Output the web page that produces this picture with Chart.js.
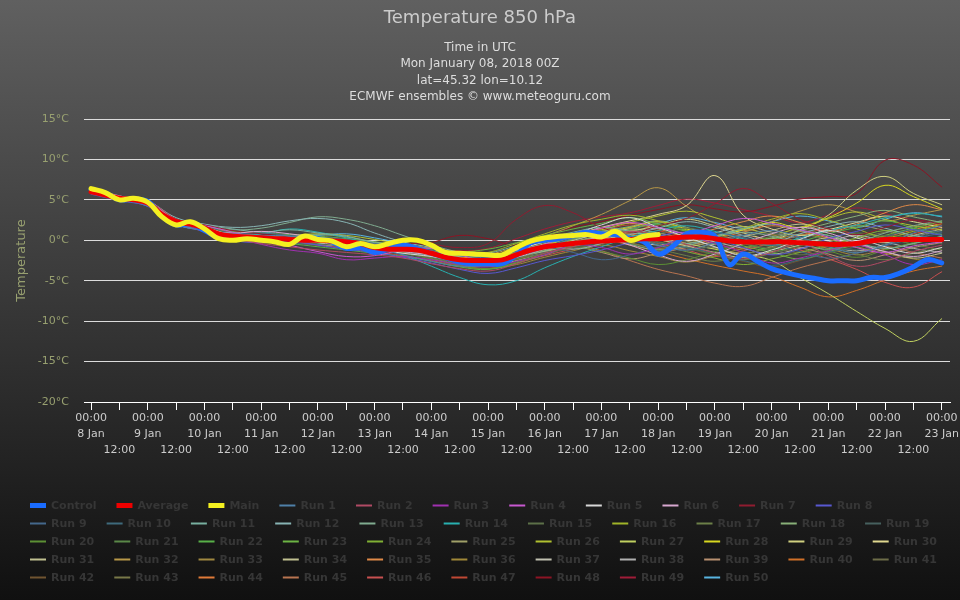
<!DOCTYPE html>
<html>
<head>
    <title>Temperature 850 hPa</title>
    <script src="https://cdn.jsdelivr.net/npm/chart.js"></script>
    <style>
        html, body { margin: 0; padding: 0; }
        #wrap {
            width: 960px; height: 600px;
            background: linear-gradient(to bottom, rgb(96,96,96), rgb(16,16,16));
        }
    </style>
</head>
<body>
<div id="wrap"><canvas id="ens-chart" width="960" height="600"></canvas></div>

<script>
    // ---- data ----
    const hours6 = [0,6,12,18,24,30,36,42,48,54,60,66,72,78,84,90,96,102,108,114,120,126,132,138,144,150,156,162,168,174,180,
        186,192,198,204,210,216,222,228,234,240,246,252,258,264,270,276,282,288,294,300,306,312,318,324,330,336,342,348,354,360];
    const hours12 = [0,12,24,36,48,60,72,84,96,108,120,132,144,156,168,180,192,204,216,228,240,252,264,276,288,300,312,324,336,348,360];
    const tickHours = hours12;
    const dayLabels = ['8 Jan','9 Jan','10 Jan','11 Jan','12 Jan','13 Jan','14 Jan','15 Jan','16 Jan','17 Jan','18 Jan',
        '19 Jan','20 Jan','21 Jan','22 Jan','23 Jan'];
    const yTicks = [15, 10, 5, 0, -5, -10, -15, -20];

    const controlTemp = [6.3,5.8,5.0,5.1,4.8,3.0,1.9,2.0,1.2,0.3,0.1,0.3,0.2,0.0,-0.3,0.3,0.2,-0.2,-1.0,-0.9,-1.5,-1.1,-0.6,-1.0,-1.6,
        -2.1,-2.7,-2.9,-2.9,-2.9,-1.8,-0.3,0.0,0.2,0.6,1.0,0.8,0.7,0.2,-0.2,-1.7,-0.8,0.8,1.0,0.5,-3.0,-1.7,-2.6,-3.5,-4.0,
        -4.4,-4.7,-5.0,-5.0,-5.0,-4.6,-4.6,-4.1,-3.3,-2.4,-2.8];
    const averageTemp = [6.0,5.6,5.2,5.0,4.6,3.2,2.3,2.0,1.5,0.8,0.5,0.4,0.3,0.2,0.1,0.0,0.0,-0.1,-0.2,-0.4,-0.9,-1.1,-1.1,-1.2,-1.6,
        -2.1,-2.4,-2.5,-2.5,-2.4,-1.8,-1.2,-0.8,-0.6,-0.4,-0.2,-0.1,0.0,0.1,0.2,0.2,0.3,0.4,0.4,0.2,-0.1,-0.2,-0.2,-0.2,-0.2,
        -0.3,-0.4,-0.5,-0.5,-0.4,-0.1,0.1,0.1,0.1,0.1,0.1];
    // main run only goes out to 240h
    const mainTemp = [6.4,5.9,5.0,5.2,4.7,2.9,1.9,2.3,1.4,0.2,0.0,0.2,0.0,-0.2,-0.5,0.5,0.1,-0.1,-0.8,-0.4,-0.8,-0.4,0.0,0.0,-0.6,
        -1.5,-1.6,-1.7,-1.8,-1.8,-0.9,-0.1,0.3,0.5,0.6,0.7,0.4,1.1,0.0,0.5,0.7];

    // ensemble members, 12-hourly
    const runs = [
        [5.8,5.0,4.3,2.0,1.2,0.8,0.6,0.5,-0.2,-0.5,-1.0,-1.8,-2.6,-3.2,-3.0,-2.0,-1.0,0.2,0.8,0.5,-0.6,-1.2,-0.3,0.6,1.2,0.4,-0.8,-1.5,-0.6,0.9,1.8], // Run 1
        [6.1,5.4,4.8,2.6,1.0,0.2,-0.4,-0.8,-1.2,-1.5,-1.8,-2.2,-2.9,-3.5,-3.8,-2.9,-1.6,-0.8,0.4,1.1,0.6,-0.5,-1.6,-2.3,-1.5,-0.4,-1.9,-3.2,-2.6,-1.4,-0.6], // Run 2
        [6.2,5.1,4.4,2.2,1.4,0.4,-0.5,-1.2,-1.6,-2.4,-2.2,-2.0,-2.4,-3.0,-3.3,-2.6,-1.8,-0.6,-0.9,-1.7,-0.9,0.3,-0.4,-1.5,-2.8,-2.2,-1.3,-0.6,-1.8,-3.0,-2.4], // Run 3
        [5.9,5.3,4.9,2.4,1.8,1.0,0.1,-0.6,-1.4,-2.0,-1.9,-1.2,-1.0,-1.8,-2.6,-1.7,-0.5,0.6,1.5,2.2,1.6,0.9,1.8,2.7,2.1,1.3,0.4,-0.9,-1.5,-0.7,-0.2], // Run 4
        [6.0,5.2,4.5,2.1,1.6,0.6,0.4,0.2,-0.3,-0.6,-1.1,-1.6,-2.0,-2.6,-2.4,-1.2,-0.2,0.7,1.9,2.8,1.6,0.4,-0.8,-1.9,-1.2,0.1,1.2,0.3,-0.8,-1.6,-0.9], // Run 5
        [6.3,5.5,4.6,2.5,1.3,0.9,1.1,0.8,0.3,-0.1,-0.8,-1.4,-1.8,-2.2,-2.7,-2.1,-1.1,-0.5,0.3,-0.6,-1.8,-2.6,-1.7,-0.4,0.8,1.6,0.9,-0.3,-1.4,-2.0,-1.3], // Run 6
        [6.1,5.3,4.4,2.6,1.9,1.2,0.8,0.4,0.0,-0.3,-0.6,-0.4,-0.5,-0.9,-0.4,2.6,4.3,3.4,1.6,0.9,1.8,2.7,4.5,6.4,4.6,2.6,1.4,0.7,1.6,2.5,2.0], // Run 7
        [5.7,4.9,4.2,2.0,1.1,0.0,-0.3,-0.1,-0.6,-1.1,-1.5,-2.1,-2.8,-3.6,-4.1,-3.4,-2.5,-1.9,-1.2,-0.3,0.5,1.0,0.2,-0.9,-1.8,-1.1,0.2,1.1,1.9,1.3,0.6], // Run 8
        [6.0,5.0,4.6,2.3,1.7,0.9,0.9,0.6,0.4,0.1,-0.4,-0.9,-1.2,-1.9,-2.1,-1.4,-0.9,-1.5,-2.4,-1.8,-0.8,0.1,0.9,0.3,-0.5,-1.4,-2.2,-1.6,-0.7,0.2,0.9], // Run 9
        [6.2,5.4,4.7,2.2,1.5,0.3,0.0,-0.3,-0.5,-0.2,-0.9,-1.3,-2.0,-2.8,-3.2,-2.2,-0.9,0.3,0.9,0.4,-0.3,-0.9,-1.6,-2.5,-3.1,-2.4,-1.5,-0.8,0.4,1.3,1.0], // Run 10
        [5.8,5.2,4.5,2.6,1.9,1.4,1.0,1.3,0.9,0.5,-0.3,-0.8,-1.4,-2.0,-1.6,-0.7,0.2,1.0,1.6,1.1,0.3,-0.4,0.5,1.4,2.0,1.2,0.6,-0.3,-1.0,-0.4,0.5], // Run 11
        [6.1,5.3,4.8,2.8,2.0,1.6,1.8,2.4,2.7,2.2,0.9,-0.2,-0.9,-1.7,-2.0,-1.3,-0.6,-1.1,-0.4,0.7,1.5,2.3,1.6,0.6,-0.2,0.8,1.7,2.3,1.5,0.6,0.2], // Run 12
        [6.0,5.1,4.4,2.4,1.8,1.3,1.5,2.2,2.9,2.6,1.8,0.6,-0.6,-1.5,-2.3,-1.9,-1.3,-0.3,0.3,-0.5,-1.2,-0.7,0.4,1.0,0.5,-0.4,-1.1,-0.3,0.9,1.8,2.4], // Run 13
        [5.9,5.0,4.2,2.1,1.3,0.5,0.8,1.4,1.0,0.3,-0.6,-1.8,-3.2,-4.6,-5.5,-5.0,-3.4,-2.0,-0.8,0.4,1.2,1.8,1.1,0.2,-0.6,0.3,1.2,1.9,2.8,3.3,3.0], // Run 14
        [6.1,5.2,4.7,2.2,1.4,0.4,0.1,-0.2,-0.4,-0.7,-1.2,-1.7,-2.2,-2.9,-3.1,-2.4,-1.6,-1.0,-0.5,0.1,0.8,1.5,0.7,-0.3,-1.1,-1.8,-1.2,-0.3,0.6,0.2,-0.4], // Run 15
        [6.0,5.4,4.9,2.5,1.6,0.7,0.5,0.3,0.2,0.0,-0.5,-0.9,-1.3,-1.8,-1.5,-0.4,0.8,1.9,2.6,3.1,2.4,1.3,0.6,1.5,2.6,3.3,2.5,1.4,0.4,1.1,2.0], // Run 16
        [5.8,5.1,4.5,2.3,1.5,0.6,0.2,0.0,-0.3,-0.5,-0.9,-1.4,-2.1,-2.7,-2.9,-2.3,-1.2,-0.4,0.2,-0.4,-1.1,-1.9,-2.6,-1.8,-0.9,-0.2,-0.8,-1.7,-2.4,-1.6,-0.9], // Run 17
        [6.2,5.3,4.6,2.0,1.3,0.2,0.3,0.5,0.7,0.4,-0.2,-0.8,-1.5,-2.2,-2.6,-1.7,-0.5,0.4,1.1,1.7,2.4,1.6,0.5,-0.4,0.3,1.2,2.1,3.0,3.7,2.9,2.2], // Run 18
        [6.0,5.2,4.5,2.2,1.5,0.5,0.2,-0.1,-0.4,-0.8,-1.3,-1.6,-2.0,-2.5,-2.8,-2.2,-1.5,-0.9,-0.3,0.2,-0.5,-1.3,-0.6,0.3,0.9,0.2,-0.6,-1.2,-0.5,0.4,1.1], // Run 19
        [5.9,5.0,4.3,2.4,1.7,0.8,0.4,0.1,-0.2,-0.6,-1.0,-1.5,-2.3,-3.1,-3.5,-2.7,-1.6,-0.8,-1.4,-2.2,-3.0,-2.4,-1.4,-0.5,0.3,-0.4,-1.3,-2.1,-1.2,-0.3,0.5], // Run 20
        [6.1,5.3,4.6,2.5,1.6,0.7,0.6,0.4,0.3,0.1,-0.3,-0.7,-1.1,-1.6,-2.0,-1.2,-0.3,0.5,1.2,0.6,-0.2,-0.9,-1.7,-2.4,-1.6,-0.7,0.2,0.9,0.3,-0.5,-1.2], // Run 21
        [6.0,5.2,4.4,2.1,1.4,0.3,0.0,-0.4,-0.8,-1.2,-1.6,-2.0,-2.6,-3.3,-3.6,-2.8,-1.8,-0.7,0.4,1.3,2.0,1.2,0.4,-0.4,-1.1,-0.2,0.8,1.6,2.4,1.5,0.7], // Run 22
        [5.8,5.1,4.7,2.6,1.8,1.1,0.9,0.7,0.5,0.2,-0.2,-0.6,-1.0,-1.4,-1.1,-0.3,0.6,1.4,2.1,2.8,2.0,1.1,0.2,-0.7,-1.5,-2.3,-1.4,-0.5,0.6,1.5,2.3], // Run 23
        [6.2,5.4,4.8,2.3,1.5,0.5,0.2,0.0,-0.2,-0.4,-0.8,-1.3,-1.9,-2.6,-3.0,-2.1,-1.0,0.1,0.9,0.4,-0.5,-1.4,-2.2,-3.0,-2.3,-1.5,-0.6,0.3,1.2,0.6,-0.1], // Run 24
        [6.0,5.3,4.5,2.2,1.4,0.4,0.3,0.2,0.1,-0.1,-0.6,-1.2,-1.8,-2.5,-2.7,-1.9,-0.9,-0.2,0.5,1.2,0.7,-0.1,-0.9,-1.6,-0.8,0.2,1.1,1.8,1.2,0.4,-0.3], // Run 25
        [5.9,5.2,4.6,2.4,1.6,0.6,0.5,0.6,0.8,0.6,0.1,-0.5,-1.1,-1.8,-2.2,-1.5,-0.6,0.4,1.3,2.2,3.0,3.6,2.8,1.7,0.8,1.6,2.7,3.5,2.6,1.8,1.3], // Run 26
        [6.1,5.3,4.5,2.3,1.5,0.5,0.2,0.0,-0.1,-0.3,-0.8,-1.2,-1.7,-2.3,-2.6,-2.0,-1.2,-0.5,0.2,0.9,0.4,-0.4,-1.1,-1.8,-2.5,-4.6,-6.6,-8.8,-10.9,-12.5,-9.7], // Run 27
        [6.0,5.1,4.4,2.2,1.3,0.4,0.2,0.1,0.0,-0.2,-0.7,-1.0,-1.4,-2.0,-2.3,-1.6,-0.6,0.3,1.0,1.6,2.3,1.4,0.5,1.3,2.2,1.6,2.8,4.6,6.8,5.4,3.9], // Run 28
        [5.8,5.0,4.3,2.0,1.2,0.3,0.0,-0.2,-0.3,-0.5,-0.9,-1.3,-1.9,-2.6,-2.9,-2.2,-1.3,-0.4,0.3,1.1,1.8,2.6,1.8,0.9,0.2,1.3,3.1,6.2,7.9,5.8,4.4], // Run 29
        [6.2,5.4,4.7,2.4,1.6,0.7,0.5,0.3,0.2,0.0,-0.4,-0.8,-1.3,-1.9,-2.1,-1.4,-0.4,0.6,1.6,2.4,3.2,4.3,8.0,3.1,1.4,0.6,1.3,2.2,3.0,2.3,1.6], // Run 30
        [6.0,5.1,4.6,2.1,1.4,0.6,0.4,0.2,0.0,-0.3,-0.9,-1.5,-2.2,-2.9,-3.2,-2.5,-1.5,-0.7,0.0,0.6,0.1,-0.7,-1.5,-2.1,-1.4,-0.6,0.3,-0.5,-1.4,-2.2,-1.6], // Run 31
        [5.9,5.3,4.8,2.5,1.7,0.8,0.5,0.4,0.3,0.1,-0.3,-0.6,-1.0,-1.5,-1.7,-0.8,0.5,1.8,3.2,4.9,6.5,4.2,2.1,1.2,2.3,3.6,4.4,3.5,2.4,3.1,3.8], // Run 32
        [6.1,5.2,4.5,2.3,1.5,0.6,0.3,0.1,-0.2,-0.6,-1.0,-1.4,-1.9,-2.5,-2.8,-2.0,-1.1,-0.3,0.4,-0.3,-1.0,-0.4,0.5,1.3,0.7,-0.2,-1.0,-1.8,-1.1,-0.4,0.3], // Run 33
        [6.0,5.2,4.6,2.2,1.4,0.5,0.3,0.2,0.0,-0.2,-0.6,-1.0,-1.6,-2.3,-2.6,-1.9,-1.0,-0.2,0.6,1.4,0.9,0.2,-0.5,0.4,1.2,2.0,1.3,0.5,-0.3,0.6,1.4], // Run 34
        [6.2,5.4,4.7,2.6,1.8,0.9,0.6,0.3,0.0,-0.3,-0.7,-1.1,-1.5,-2.0,-2.4,-1.8,-0.7,0.5,1.5,2.1,1.4,0.6,1.4,2.3,3.0,2.2,1.1,2.0,3.4,4.4,3.8], // Run 35
        [5.8,5.0,4.4,2.1,1.3,0.3,0.1,-0.1,-0.3,-0.6,-1.1,-1.6,-2.3,-3.1,-3.5,-3.0,-2.1,-1.3,-0.6,-1.3,-2.0,-2.7,-1.9,-1.0,-0.1,0.7,0.1,-0.8,-1.6,-2.3,-2.8], // Run 36
        [6.0,5.3,4.6,2.4,1.6,0.6,0.4,0.2,0.1,-0.1,-0.5,-0.9,-1.4,-2.1,-2.4,-1.7,-0.8,0.0,0.7,0.2,-0.6,0.1,0.9,1.7,1.0,0.2,-0.6,-1.3,-0.5,0.4,1.2], // Run 37
        [6.1,5.2,4.5,2.2,1.4,0.4,0.1,-0.2,-0.5,-0.8,-1.2,-1.6,-2.1,-2.7,-2.9,-2.2,-1.3,-0.5,0.1,0.8,1.5,0.7,-0.2,-1.0,-1.7,-1.0,-0.2,0.6,-0.2,-1.0,-1.5], // Run 38
        [5.9,5.1,4.5,2.3,1.5,0.5,0.2,0.0,-0.1,-0.4,-0.9,-1.3,-1.8,-2.4,-2.7,-2.1,-1.4,-0.8,-1.5,-2.3,-1.6,-0.9,-0.1,0.6,-0.1,-0.9,-1.7,-2.5,-1.8,-0.9,-0.3], // Run 39
        [6.0,5.2,4.7,2.4,1.6,0.7,0.5,0.3,0.1,-0.1,-0.5,-1.0,-1.6,-2.4,-2.8,-2.3,-1.4,-0.6,0.1,-0.6,-1.4,-2.3,-3.1,-3.8,-4.5,-5.8,-7.0,-6.2,-4.9,-3.8,-3.2], // Run 40
        [6.1,5.3,4.6,2.3,1.5,0.6,0.3,0.1,-0.1,-0.4,-0.8,-1.2,-1.7,-2.3,-2.5,-1.8,-0.9,-0.1,0.6,1.2,0.5,-0.3,-1.0,-0.4,0.5,1.3,0.6,-0.2,-1.0,-0.3,0.4], // Run 41
        [6.0,5.2,4.4,2.1,1.3,0.4,0.1,-0.2,-0.4,-0.7,-1.1,-1.5,-2.0,-2.7,-3.0,-2.4,-1.6,-0.9,-0.2,0.5,-0.2,-1.0,-1.8,-2.6,-3.3,-2.5,-1.6,-0.7,0.2,-0.5,-1.2], // Run 42
        [5.8,5.1,4.5,2.2,1.4,0.5,0.3,0.2,0.1,-0.2,-0.7,-1.1,-1.6,-2.2,-2.4,-1.7,-0.7,0.2,0.9,1.5,2.2,1.5,0.7,-0.1,-0.8,-1.5,-0.7,0.2,1.0,1.7,2.4], // Run 43
        [6.2,5.4,4.8,2.5,1.7,0.8,0.5,0.3,0.2,0.0,-0.4,-0.9,-1.4,-2.0,-2.3,-1.6,-0.5,0.6,1.4,0.8,0.1,-0.6,0.2,1.0,1.8,1.1,0.3,-0.5,0.4,1.3,2.1], // Run 44
        [6.0,5.2,4.6,2.3,1.5,0.5,0.2,0.0,-0.2,-0.5,-0.9,-1.4,-2.0,-2.7,-3.0,-2.3,-1.4,-0.6,-1.3,-2.5,-3.6,-4.4,-5.3,-5.7,-4.6,-3.4,-2.5,-1.6,-0.8,-1.5,-2.2], // Run 45
        [5.9,5.1,4.4,2.1,1.3,0.3,0.0,-0.3,-0.6,-1.0,-1.4,-1.9,-2.5,-3.2,-3.5,-2.8,-1.9,-1.1,-0.4,0.3,-0.4,-1.2,-2.0,-1.3,-0.5,-1.2,-2.3,-3.6,-5.2,-5.8,-3.9], // Run 46
        [6.1,5.3,4.7,2.4,1.6,0.6,0.3,0.1,-0.1,-0.3,-0.7,-1.1,-1.5,-2.1,-2.4,-1.6,-0.6,0.3,1.1,1.9,1.2,0.4,-0.4,-1.1,-0.3,0.6,1.4,0.7,-0.1,0.8,1.6], // Run 47
        [6.0,5.1,4.3,2.3,1.7,0.7,0.2,0.0,-0.4,-0.9,-1.4,-1.1,-0.3,0.6,0.2,-0.6,0.4,1.6,2.3,3.1,3.8,4.4,3.9,3.5,4.2,5.1,5.4,5.8,9.9,9.3,6.6], // Run 48
        [6.0,5.2,4.6,2.5,1.7,0.8,0.6,0.4,0.2,-0.1,-0.6,-0.8,-1.0,-1.3,-1.0,0.2,1.4,2.3,2.9,3.4,4.3,5.1,4.6,3.8,3.0,2.2,3.1,4.0,3.3,2.5,1.8], // Run 49
        [5.9,5.0,4.4,2.2,1.4,0.5,0.3,0.4,0.6,0.8,0.3,-0.4,-1.1,-1.9,-2.3,-1.6,-0.7,0.1,0.8,1.5,2.1,2.8,2.2,1.5,2.3,3.0,2.4,1.6,2.6,3.4,2.9]  // Run 50
    ];

    const runColors = ['#4f80a8','#b04a64','#a030b0','#c858d0','#d8d8d8','#d8a8d0','#901c30','#5858d0','#44688c','#3e6a7c',
        '#78b0a0','#88b4b4','#80ac90','#28b0b0','#5c7048','#a0b428','#6c8048','#88b078','#46605e','#5c9034',
        '#5a8848','#58b048','#6cb444','#80b034','#a0a068','#b0c030','#c0d060','#d8d820','#d0d080','#e0d890',
        '#c0c090','#b89848','#a08840','#c0c090','#e08a48','#a08838','#c0c0b0','#b0b0b0','#b89070','#d07028',
        '#6c6c48','#705430','#787848','#e07a38','#b87450','#c85050','#c04834','#8c1424','#a01c38','#58b4e0'];

    // ---- build datasets ----
    const toPoints = (xs, ys) => ys.map((y, i) => ({ x: xs[i], y: y }));

    const datasets = [
        { label: 'Control', data: toPoints(hours6, controlTemp), borderColor: '#1a6cff', borderWidth: 5, order: 2 },
        { label: 'Average', data: toPoints(hours6, averageTemp), borderColor: '#ee0000', borderWidth: 5, order: 1 },
        { label: 'Main', data: toPoints(hours6, mainTemp), borderColor: '#f4f020', borderWidth: 5, order: 0 }
    ];
    runs.forEach((vals, i) => {
        datasets.push({
            label: 'Run ' + (i + 1),
            data: toPoints(hours12, vals),
            borderColor: runColors[i],
            borderWidth: 1,
            order: 3
        });
    });
    datasets.forEach(ds => {
        ds.pointRadius = 0;
        ds.tension = 0.4;
        ds.fill = false;
        ds.borderCapStyle = 'round';
        ds.borderJoinStyle = 'round';
    });

    // titles + flowing legend drawn on the canvas
    const decorations = {
        id: 'decorations',
        afterDraw(chart) {
            const ctx = chart.ctx;
            ctx.save();
            ctx.textAlign = 'center';
            ctx.textBaseline = 'middle';
            ctx.fillStyle = '#cccccc';
            ctx.font = '18px "DejaVu Sans"';
            ctx.fillText('Temperature 850 hPa', 480, 18);
            ctx.fillStyle = '#dddddd';
            ctx.font = '12px "DejaVu Sans"';
            ['Time in UTC', 'Mon January 08, 2018 00Z', 'lat=45.32 lon=10.12', 'ECMWF ensembles © www.meteoguru.com']
                .forEach((t, i) => ctx.fillText(t, 480, 48 + i * 16.2));

            // legend
            ctx.textAlign = 'left';
            ctx.font = 'bold 11px "DejaVu Sans"';
            let x = 30, y = 505.5;
            chart.data.datasets.forEach(ds => {
                const w = 16 + 5 + ctx.measureText(ds.label).width;
                if (x > 30 && x + w > 942) { x = 30; y += 18; }
                ctx.strokeStyle = ds.borderColor;
                ctx.lineWidth = ds.borderWidth > 2 ? 5 : 2;
                ctx.beginPath();
                ctx.moveTo(x, y);
                ctx.lineTo(x + 16, y);
                ctx.stroke();
                ctx.fillStyle = '#363636';
                ctx.fillText(ds.label, x + 21, y + 0.5);
                x += w + 20;
            });
            ctx.restore();
        }
    };

    new Chart(document.getElementById('ens-chart').getContext('2d'), {
        type: 'line',
        data: { datasets: datasets },
        options: {
            responsive: false,
            animation: false,
            devicePixelRatio: 1,
            layout: { padding: { top: 119, left: 10, right: 10, bottom: 0 } },
            plugins: {
                legend: { display: false },
                tooltip: { enabled: false },
                title: { display: false }
            },
            scales: {
                x: {
                    type: 'linear',
                    min: -3,
                    max: 363.5,
                    afterBuildTicks: axis => { axis.ticks = tickHours.map(h => ({ value: h })); },
                    afterFit: axis => { axis.height = 198; },
                    grid: { drawOnChartArea: false, color: '#ffffff', tickLength: 8 },
                    border: { display: true, color: '#ffffff' },
                    ticks: {
                        autoSkip: false,
                        maxRotation: 0,
                        padding: 0,
                        color: '#cccccc',
                        font: { family: 'DejaVu Sans', size: 11, lineHeight: 1.45 },
                        callback: v => (v % 24 === 0) ? ['00:00', dayLabels[v / 24]] : ['', '', '12:00']
                    }
                },
                y: {
                    min: -20,
                    max: 15,
                    afterBuildTicks: axis => { axis.ticks = yTicks.map(v => ({ value: v })); },
                    afterFit: axis => { axis.width = 74; },
                    grid: { color: '#dcdcdc', drawTicks: false },
                    border: { display: false },
                    ticks: {
                        padding: 15,
                        color: '#98a070',
                        font: { family: 'DejaVu Sans', size: 11 },
                        callback: v => v + '°C'
                    },
                    title: {
                        display: true,
                        text: 'Temperature',
                        color: '#98a070',
                        font: { family: 'DejaVu Sans', size: 13 }
                    }
                }
            }
        },
        plugins: [decorations]
    });
</script>
</body>
</html>
